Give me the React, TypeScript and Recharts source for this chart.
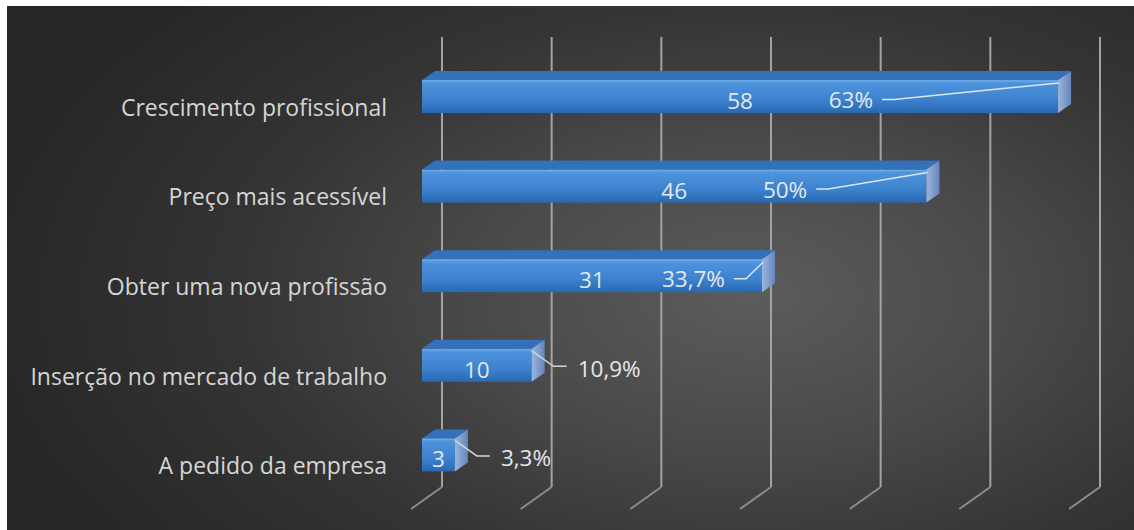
import React from 'react';
import { BarChart, Bar, XAxis, YAxis, CartesianGrid, LabelList } from 'recharts';

const categories = [
  'Crescimento profissional',
  'Preço mais acessível',
  'Obter uma nova profissão',
  'Inserção no mercado de trabalho',
  'A pedido da empresa',
];
const counts = [58, 46, 31, 10, 3];
const percents = ['63%', '50%', '33,7%', '10,9%', '3,3%'];
const xTicks = [0, 10, 20, 30, 40, 50, 60];

const data = categories.map((name, i) => ({ name, value: counts[i], pct: percents[i] }));

const W = 1127;
const H = 524;
const DX = 13; // bar depth
const DY = 9;
const FONT = '"Open Sans", "Noto Sans", sans-serif';
const TEXT = '#e4e8ee';
const VAL_SIZE = 22.5;

// back-wall gridline plus its slanted floor segment
const gridLine = (p: any) => {
  const x = p.x1 + 20;
  const top = p.y1 - 15;
  const bottom = p.y2 - 13;
  return (
    <g>
      <line x1={x} y1={top} x2={x} y2={bottom} stroke="#a3a3a3" strokeWidth={2} />
      <line x1={x} y1={bottom} x2={x - 31} y2={bottom + 22} stroke="#8c8c8c" strokeWidth={2} />
    </g>
  );
};

const Bar3D = (p: any) => {
  const { x, y, width: w, height: h, index } = p;
  const f = `front${index}`;
  const s = `side${index}`;
  return (
    <g>
      <defs>
        <linearGradient id={f} x1="0" y1="0" x2="0" y2="1">
          <stop offset="0%" stopColor="#60a3e6" />
          <stop offset="12%" stopColor="#4c92db" />
          <stop offset="60%" stopColor="#3c82ce" />
          <stop offset="100%" stopColor="#2968b2" />
        </linearGradient>
        <linearGradient id={s} x1="0" y1="0" x2="1" y2="0">
          <stop offset="0%" stopColor="#9bb6dc" />
          <stop offset="100%" stopColor="#6486bd" />
        </linearGradient>
      </defs>
      <polygon
        points={`${x},${y} ${x + DX},${y - DY} ${x + w + DX},${y - DY} ${x + w},${y}`}
        fill="#3571ba"
      />
      <rect x={x} y={y} width={w} height={h} fill={`url(#${f})`} />
      <polygon
        points={`${x + w},${y} ${x + w + DX},${y - DY} ${x + w + DX},${y + h - DY} ${x + w},${y + h}`}
        fill={`url(#${s})`}
      />
      <line x1={x} y1={y + 1} x2={x + w} y2={y + 1} stroke="#6eabe8" strokeWidth={1} />
    </g>
  );
};

const valueLabel = (p: any) => {
  const { x, y, width, height, value } = p;
  return (
    <text
      x={x + width / 2}
      y={y + height / 2 + 4}
      textAnchor="middle"
      dominantBaseline="central"
      fill={TEXT}
      fontSize={VAL_SIZE}
      fontFamily={FONT}
    >
      {value}
    </text>
  );
};

const pctLabel = (p: any) => {
  const { x, y, width: w, height, value } = p;
  const cy = y + height / 2 + 3;
  if (w > 200) {
    const right = x + 0.5 * w + 133;
    return (
      <g>
        <text x={right} y={cy} textAnchor="end" dominantBaseline="central" fill={TEXT} fontSize={VAL_SIZE} fontFamily={FONT}>
          {value}
        </text>
        <polyline
          points={`${right + 9},${cy} ${right + 21},${cy} ${x + w + 1},${y + 3}`}
          fill="none"
          stroke="#dfe6ee"
          strokeWidth={1.5}
        />
      </g>
    );
  }
  const ly = cy - 2;
  return (
    <g>
      <polyline
        points={`${x + w},${y + 2} ${x + w + 22},${ly} ${x + w + 35},${ly}`}
        fill="none"
        stroke="#cfd5dc"
        strokeWidth={1.5}
      />
      <text x={x + w + 46} y={cy} textAnchor="start" dominantBaseline="central" fill={TEXT} fontSize={VAL_SIZE} fontFamily={FONT}>
        {value}
      </text>
    </g>
  );
};

const categoryTick = (p: any) => {
  const { x, y, payload } = p;
  return (
    <text x={x} y={y + 10} textAnchor="end" dominantBaseline="central" fill="#d6d6d6" fontSize={23} fontFamily={FONT}>
      {payload.value}
    </text>
  );
};

export default function App() {
  return (
    <div
      style={{
        position: 'absolute',
        left: 7,
        top: 6,
        width: W,
        height: H,
        background: 'radial-gradient(ellipse 70% 85% at 66% 55%, #5c5c5c 0%, #494949 35%, #343434 65%, #262626 100%)',
      }}
    >
      <BarChart
        width={W}
        height={H}
        data={data}
        layout="vertical"
        margin={{ top: 46, right: 54, bottom: 30, left: 0 }}
        barSize={33}
      >
        <CartesianGrid horizontal={false} vertical={gridLine} />
        <XAxis type="number" domain={[0, 60]} ticks={xTicks} hide />
        <YAxis
          type="category"
          dataKey="name"
          width={415}
          axisLine={false}
          tickLine={false}
          tickSize={0}
          tickMargin={35}
          tick={categoryTick}
          interval={0}
        />
        <Bar dataKey="value" shape={Bar3D} isAnimationActive={false}>
          <LabelList dataKey="value" content={valueLabel} />
          <LabelList dataKey="pct" content={pctLabel} />
        </Bar>
      </BarChart>
    </div>
  );
}
